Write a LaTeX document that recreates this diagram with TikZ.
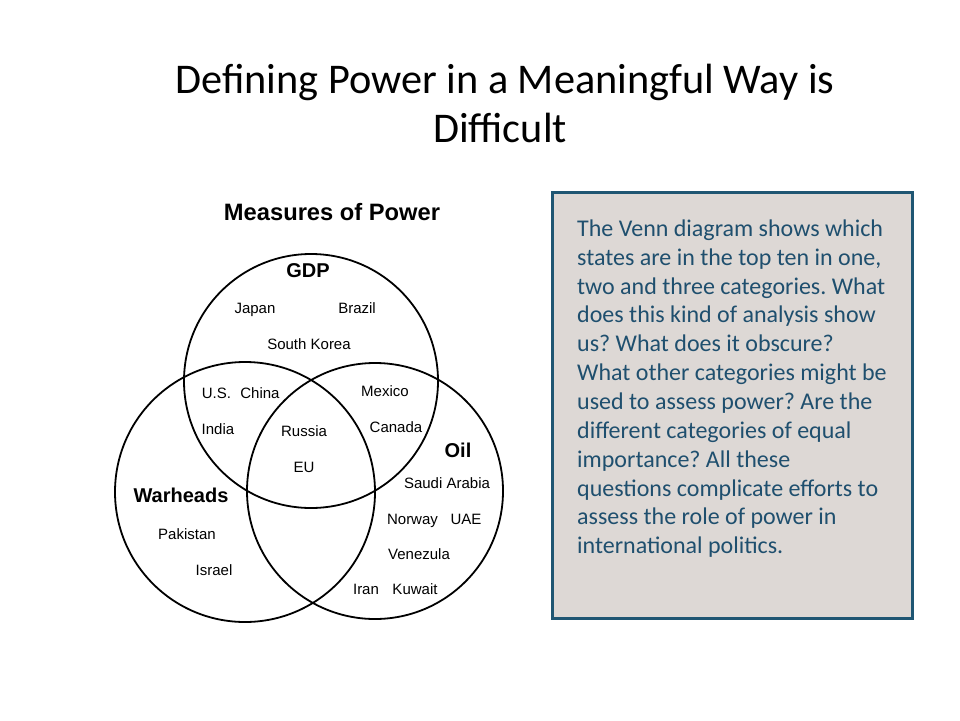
\documentclass[tikz,border=0pt]{standalone}
\usepackage{fontspec}
\setmainfont{Carlito}
\newfontfamily\arialf{Liberation Sans}
\definecolor{boxborder}{HTML}{1F5673}
\definecolor{boxfill}{HTML}{DDD8D5}
\definecolor{boxtext}{HTML}{1F4F6E}
\frenchspacing
\begin{document}
\begin{tikzpicture}[x=1pt,y=-1pt,
  venn/.style={draw=black,line width=1.8pt},
  ctry/.style={font=\arialf\fontsize{15}{18}\selectfont,anchor=base,inner sep=0pt},
  cat/.style={font=\arialf\bfseries\fontsize{20}{24}\selectfont,anchor=base,inner sep=0pt},
  ]
\useasboundingbox[fill=white] (0,0) rectangle (960,720);
% title
\node[font=\fontsize{42.3}{49}\selectfont,anchor=base,inner sep=0pt] (t1) at (505,93) {Defining Power in a Meaningful Way is};
\node[font=\fontsize{42.3}{49}\selectfont,anchor=base,inner sep=0pt] (t2) at (500,142) {Difficult};
% venn
\node[font=\arialf\bfseries\fontsize{23.7}{28}\selectfont,anchor=base,inner sep=0pt] (mp) at (332,220.5) {Measures of Power};
\draw[venn] (311,381) circle[radius=127pt];
\draw[venn] (245,492) circle[radius=130pt];
\draw[venn] (375,491) circle[radius=128pt];
\node[cat] (gdp) at (308,277) {GDP};
\node[cat] (oil) at (458,457) {Oil};
\node[cat] (war) at (181,502) {Warheads};
\node[ctry] (japan) at (255,313) {Japan};
\node[ctry] (brazil) at (357,313) {Brazil};
\node[ctry] (sk) at (309,349) {South Korea};
\node[ctry] (us) at (216.5,398) {U.S.};
\node[ctry] (china) at (260,398) {China};
\node[ctry] (india) at (218,434) {India};
\node[ctry] (russia) at (304,436) {Russia};
\node[ctry] (eu) at (304,472) {EU};
\node[ctry] (mexico) at (385,396) {Mexico};
\node[ctry] (canada) at (396,432) {Canada};
\node[ctry] (saudi) at (447,488) {Saudi Arabia};
\node[ctry] (norway) at (412.5,524) {Norway};
\node[ctry] (uae) at (466,524) {UAE};
\node[ctry] (venez) at (419,559) {Venezula};
\node[ctry] (iran) at (366,594) {Iran};
\node[ctry] (kuwait) at (415,594) {Kuwait};
\node[ctry] (pak) at (187,539) {Pakistan};
\node[ctry] (israel) at (214,575) {Israel};
% text box
\draw[draw=boxborder,fill=boxfill,line width=3pt] (552,192) rectangle (912,618);
\node[anchor=north west,inner sep=0pt,align=left,text=boxtext,
  font=\fontsize{24}{28.85}\selectfont] (txt) at (577,219.5) {%
The Venn diagram shows which\\
states are in the top ten in one,\\
two and three categories. What\\
does this kind of analysis show\\
us? What does it obscure?\\
What other categories might be\\
used to assess power? Are the\\
different categories of equal\\
importance? All these\\
questions complicate efforts to\\
assess the role of power in\\
international politics.};
\end{tikzpicture}
\end{document}
